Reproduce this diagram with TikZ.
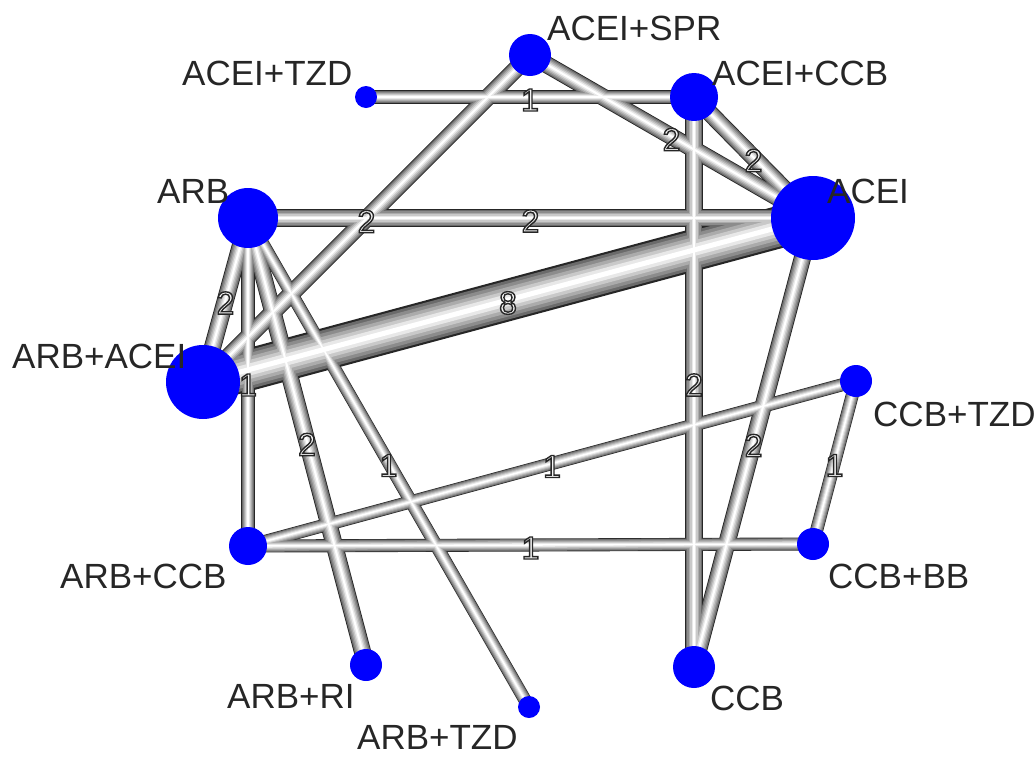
\documentclass[tikz,border=0pt]{standalone}
\usepackage{fontspec}
\setmainfont{Liberation Sans}
\definecolor{trtblue}{RGB}{0,0,255}
\pgfdeclarelayer{tubes}
\pgfsetlayers{tubes,main}
% outlined glyphs: fill light, stroke dark (text render mode 2)
\newcommand\hollow[1]{\textcolor{black!4}{\special{pdf:literal 2 Tr 1.4 w 0.15 G}%
  #1\special{pdf:literal 0 Tr}}}
\tikzset{
  trt/.style={circle, fill=trtblue, draw=none, inner sep=0pt, minimum size=#1},
  trtlabel/.style={anchor=base west, inner sep=0pt, text=black!85,
    font=\fontsize{35}{35}\selectfont},
  cnt/.style={inner sep=0pt, yshift=-3pt, font=\fontsize{32}{32}\selectfont}
}
% comparisons: from / to / number of trials
\newcommand\trials{tzdA/ccbA/1, sprA/acei/2, ccbA/acei/2, sprA/arbacei/2,
  arb/acei/2, arbacei/acei/8, arb/arbacei/2, arb/arbccb/1, ccbA/ccb/2,
  acei/ccb/2, arb/arbri/2, arb/arbtzd/1, arbccb/ccbtzd/1, arbccb/ccbbb/1,
  ccbtzd/ccbbb/1}
\begin{document}
\begin{tikzpicture}[x=1pt,y=-1pt]
\useasboundingbox (0,0) rectangle (1036,756);
% treatments
\node[trt=42] (sprA)    at (530,55)  {};
\node[trt=22] (tzdA)    at (366,97)  {};
\node[trt=48] (ccbA)    at (694,97)  {};
\node[trt=60] (arb)     at (248,218) {};
\node[trt=84] (acei)    at (813,218) {};
\node[trt=74] (arbacei) at (203,382) {};
\node[trt=32] (ccbtzd)  at (856,381) {};
\node[trt=38] (arbccb)  at (248,546) {};
\node[trt=32] (ccbbb)   at (813,544) {};
\node[trt=32] (arbri)   at (366,665) {};
\node[trt=42] (ccb)     at (694,667) {};
\node[trt=22] (arbtzd)  at (529,707) {};
% shaded tubes, width grows with the number of trials
\begin{pgfonlayer}{tubes}
\foreach \f/\c in {1.00/black!85, 0.90/black!58, 0.76/black!45, 0.60/black!33,
                   0.44/black!21, 0.28/black!9, 0.12/white}{
  \foreach \a/\b/\n in \trials {
    \pgfmathsetmacro\lw{(8.9+4.14*\n)*\f}
    \draw[line width=\lw pt, color=\c] (\a.center) -- (\b.center);
  }
}
\end{pgfonlayer}
% trial counts
\foreach \a/\b/\n in \trials {
  \path (\a.center) -- node[cnt] (n-\a-\b) {\hollow{\n}} (\b.center);
}
% treatment names
\node[trtlabel] (l-sprA)    at (547,40)  {ACEI+SPR};
\node[trtlabel] (l-tzdA)    at (182,85)  {ACEI+TZD};
\node[trtlabel] (l-ccbA)    at (712,85)  {ACEI+CCB};
\node[trtlabel] (l-arb)     at (157,203) {ARB};
\node[trtlabel] (l-acei)    at (827,203) {ACEI};
\node[trtlabel] (l-arbacei) at (12,368)  {ARB+ACEI};
\node[trtlabel] (l-ccbtzd)  at (873,426) {CCB+TZD};
\node[trtlabel] (l-arbccb)  at (60,588)  {ARB+CCB};
\node[trtlabel] (l-ccbbb)   at (828,588) {CCB+BB};
\node[trtlabel] (l-arbri)   at (227,708) {ARB+RI};
\node[trtlabel] (l-ccb)     at (710,710) {CCB};
\node[trtlabel] (l-arbtzd)  at (357,749) {ARB+TZD};
\end{tikzpicture}
\end{document}
